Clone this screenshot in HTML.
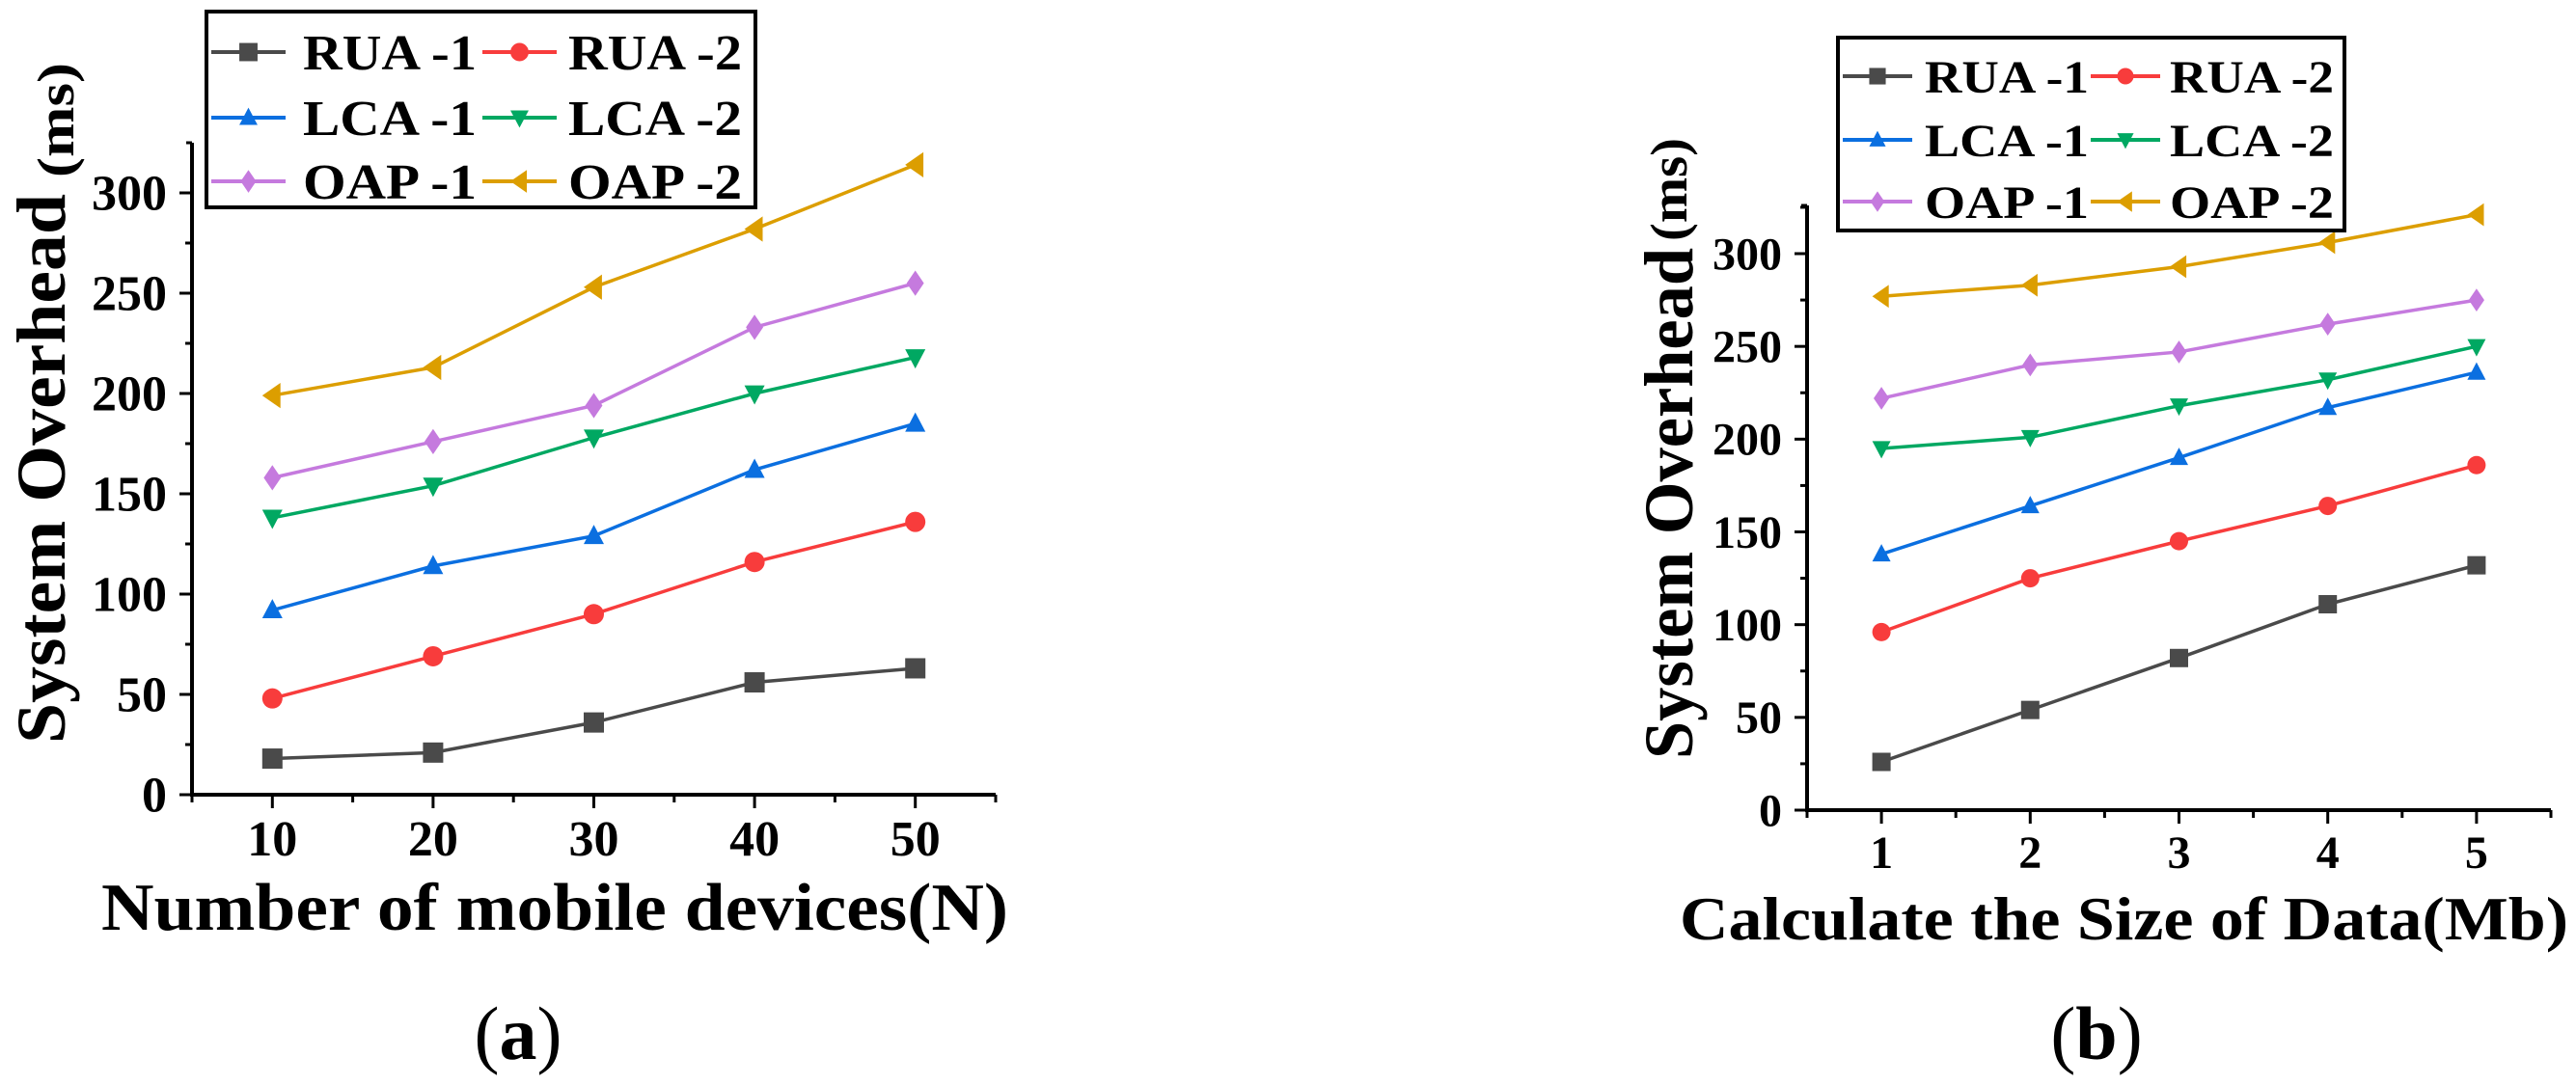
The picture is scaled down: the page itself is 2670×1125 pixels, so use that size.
<!DOCTYPE html>
<html><head><meta charset="utf-8"><style>
html,body{margin:0;padding:0;background:#fff;}
svg{display:block;}
text{font-family:"Liberation Serif",serif;font-weight:bold;fill:#000;}
</style></head><body>
<svg id="fig" width="2670" height="1125" viewBox="0 0 2670 1125" xmlns="http://www.w3.org/2000/svg"></svg>
<script>
// ---- data chart (a) ----
const catsA = [10, 20, 30, 40, 50];
const rua1A = [18, 21, 36, 56, 63];
const rua2A = [48, 69, 90, 116, 136];
const lca1A = [92, 114, 129, 162, 185];
const lca2A = [138, 154, 178, 200, 218];
const oap1A = [158, 176, 194, 233, 255];
const oap2A = [199, 213, 253, 282, 314];
const xTicksA = ["10", "20", "30", "40", "50"];
const yTicksA = [0, 50, 100, 150, 200, 250, 300];
// ---- data chart (b) ----
const catsB = [1, 2, 3, 4, 5];
const rua1B = [26, 54, 82, 111, 132];
const rua2B = [96, 125, 145, 164, 186];
const lca1B = [138, 164, 190, 217, 236];
const lca2B = [195, 201, 218, 232, 250];
const oap1B = [222, 240, 247, 262, 275];
const oap2B = [277, 283, 293, 306, 321];
const xTicksB = ["1", "2", "3", "4", "5"];
const yTicksB = [0, 50, 100, 150, 200, 250, 300];
const seriesNames = ["RUA -1", "RUA -2", "LCA -1", "LCA -2", "OAP -1", "OAP -2"];

const NS = "http://www.w3.org/2000/svg";
const svg = document.getElementById("fig");
const colors = ["#4a4a4a", "#f83c3c", "#0b6fe0", "#00a862", "#c57ade", "#dc9e00"];
const shapes = ["square", "circle", "up", "down", "diamond", "left"];

function mk(tag, attrs, parent) {
  const e = document.createElementNS(NS, tag);
  for (const k in attrs) e.setAttribute(k, attrs[k]);
  (parent || svg).appendChild(e);
  return e;
}
function marker(g, shape, x, y, s, c) {
  let e;
  if (shape === "square") e = mk("rect", {x: x - s/2, y: y - s/2, width: s, height: s, fill: c}, g);
  else if (shape === "circle") e = mk("circle", {cx: x, cy: y, r: s/2, fill: c}, g);
  else {
    let p;
    const h = s/2;
    if (shape === "up") p = [[x, y - h*1.1], [x + h, y + h*0.8], [x - h, y + h*0.8]];
    if (shape === "down") p = [[x, y + h*1.1], [x + h, y - h*0.8], [x - h, y - h*0.8]];
    if (shape === "diamond") p = [[x, y - h*1.25], [x + h*0.85, y], [x, y + h*1.25], [x - h*0.85, y]];
    if (shape === "left") p = [[x - h*1.0, y], [x + h*0.8, y - h*1.25], [x + h*0.8, y + h*1.25]];
    e = mk("polygon", {points: p.map(q => q.join(",")).join(" "), fill: c}, g);
  }
  return e;
}

function chart(cfg) {
  const g = mk("g", {});
  
  
  const X = v => cfg.x0 + (v - cfg.xmin) / (cfg.xmax - cfg.xmin) * (cfg.x1 - cfg.x0);
  const Y = v => cfg.y0 - v / cfg.ymax * (cfg.y0 - cfg.yTop);
  const ax = mk("g", {}, g);
  
  
  mk("line", {x1: cfg.x0, y1: cfg.y0, x2: cfg.x1, y2: cfg.y0, stroke: "#000", "stroke-width": 4}, ax);
  mk("line", {x1: cfg.x0, y1: cfg.y0 + 2, x2: cfg.x0, y2: cfg.yTop, stroke: "#000", "stroke-width": 4}, ax);
  mk("line", {x1: cfg.x0 - 6, y1: cfg.yTop, x2: cfg.x0, y2: cfg.yTop, stroke: "#000", "stroke-width": 3}, ax);
  cfg.yTicks.forEach((v, i) => {
    const y = Y(v);
    mk("line", {x1: cfg.x0 - 13, y1: y, x2: cfg.x0, y2: y, stroke: "#000", "stroke-width": 3}, ax);
    const my = Y(v + 25);
    if (v + 25 < cfg.ymax) mk("line", {x1: cfg.x0 - 7, y1: my, x2: cfg.x0, y2: my, stroke: "#000", "stroke-width": 3}, ax);
    const t = mk("text", {x: cfg.x0 - 26, y: y + cfg.tickFs * 0.34, "text-anchor": "end", "font-size": cfg.tickFs}, ax);
    t.textContent = String(v);
    
    
  });
  const step = cfg.cats[1] - cfg.cats[0];
  for (let v = cfg.xmin; v <= cfg.xmax + 1e-9; v += step / 2) {
    const x = X(v);
    const major = Math.abs(((v - cfg.cats[0]) / step) - Math.round((v - cfg.cats[0]) / step)) < 1e-6;
    mk("line", {x1: x, y1: cfg.y0, x2: x, y2: cfg.y0 + (major ? 14 : 8), stroke: "#000", "stroke-width": 3}, ax);
  }
  cfg.cats.forEach((v, i) => {
    const t = mk("text", {x: X(v), y: cfg.xLabY, "text-anchor": "middle", "font-size": cfg.tickFs}, ax);
    t.textContent = cfg.xTicks[i];
    
    
  });
  cfg.series.forEach((vals, si) => {
    const sg = mk("g", {}, g);
    
    
    const pts = vals.map((v, i) => X(cfg.cats[i]) + "," + Y(v)).join(" ");
    mk("polyline", {points: pts, fill: "none", stroke: colors[si], "stroke-width": 3.5}, sg);
    vals.forEach((v, i) => {
      const m = marker(sg, shapes[si], X(cfg.cats[i]), Y(v), cfg.ms, colors[si]);
      
      
    });
  });
  const L = cfg.leg;
  const lg = mk("g", {}, g);
  
  
  mk("rect", {x: L.x, y: L.y, width: L.w, height: L.h, fill: "#fff", stroke: "#000", "stroke-width": 4}, lg);
  seriesNames.forEach((n, i) => {
    const col = i % 2, row = Math.floor(i / 2);
    const ry = L.rows[row];
    const e = mk("g", {}, lg);
    
    
    mk("line", {x1: L.lx[col], y1: ry, x2: L.lx[col] + L.lw, y2: ry, stroke: colors[i], "stroke-width": 4}, e);
    marker(e, shapes[i], L.lx[col] + L.lw / 2, ry, cfg.ms * 0.9, colors[i]);
    const t = mk("text", {x: L.tx[col], y: ry + L.fs * 0.35, "font-size": L.fs, textLength: L.tw, lengthAdjust: "spacingAndGlyphs"}, e);
    t.textContent = n;
  });
  const xt = mk("text", {x: cfg.xt.x, y: cfg.xt.y, "font-size": cfg.xt.fs, textLength: cfg.xt.w, lengthAdjust: "spacingAndGlyphs"}, g);
  xt.textContent = cfg.xTitle;
  
  
  const yt = mk("text", {x: 0, y: 0, "font-size": 72, textLength: cfg.yt.len, lengthAdjust: "spacingAndGlyphs", transform: "translate(" + cfg.yt.bx + "," + cfg.yt.start + ") rotate(-90)"}, g);
  yt.textContent = "System Overhead";
  
  
  const yu = mk("text", {x: 0, y: 0, "font-size": 54, textLength: cfg.yt.ulen, lengthAdjust: "spacingAndGlyphs", transform: "translate(" + cfg.yt.ubx + "," + cfg.yt.ustart + ") rotate(-90)"}, g);
  yu.textContent = "(ms)";
  
  
  const cap = mk("text", {x: cfg.cap.x, y: 1098, "text-anchor": "middle", "font-size": 78, style: "font-weight:normal"}, g);
  cap.innerHTML = '(<tspan style="font-weight:bold">' + cfg.cap.t + '</tspan>)';
  
  
}

chart({
  name: "chart-a", cats: catsA, xTicks: xTicksA, yTicks: yTicksA,
  series: [rua1A, rua2A, lca1A, lca2A, oap1A, oap2A],
  x0: 199, x1: 1032, xmin: 5, xmax: 55, y0: 824, yTop: 148, ymax: 325,
  tickFs: 52, xLabY: 887, ms: 21,
  leg: {x: 214, y: 12, w: 569, h: 203, rows: [54, 122, 188], lx: [219, 500], lw: 77, tx: [314, 589], tw: 180, fs: 52},
  xTitle: "Number of mobile devices(N)", xt: {x: 105, y: 964, fs: 70, w: 940},
  yt: {bx: 67, start: 771, len: 570, ubx: 76, ustart: 184, ulen: 119},
  cap: {x: 537, t: "a"}
});
chart({
  name: "chart-b", cats: catsB, xTicks: xTicksB, yTicks: yTicksB,
  series: [rua1B, rua2B, lca1B, lca2B, oap1B, oap2B],
  x0: 1873, x1: 2644, xmin: 0.5, xmax: 5.5, y0: 840, yTop: 213, ymax: 326,
  tickFs: 48, xLabY: 900, ms: 19,
  leg: {x: 1905, y: 39, w: 525, h: 200, rows: [79, 145, 209], lx: [1910, 2167], lw: 72, tx: [1995, 2249], tw: 170, fs: 48},
  xTitle: "Calculate the Size of Data(Mb)", xt: {x: 1741, y: 974, fs: 64, w: 921},
  yt: {bx: 1754, start: 787, len: 530, ubx: 1748, ustart: 250, ulen: 107},
  cap: {x: 2173, t: "b"}
});
</script>
</body></html>
